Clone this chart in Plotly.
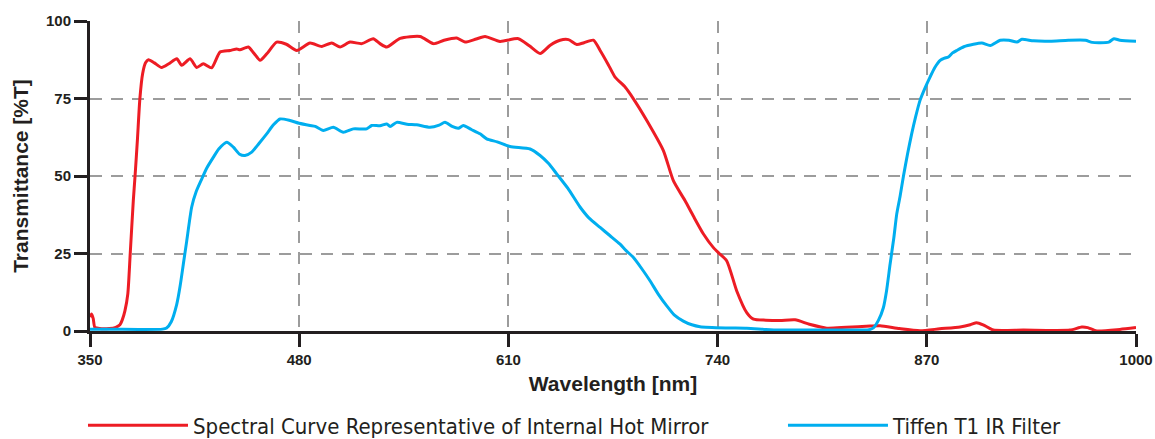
import plotly.graph_objects as go

# ---- data ----
red_wl = [350, 351, 352, 353, 356, 362, 366, 368.6, 370, 371.7, 373.5, 375, 376.9, 378, 379.5, 381, 382.7, 384.5, 386.3,
          390, 394.5, 399, 403.9, 407, 412.2, 416.3, 420.4, 425.6, 430.8, 437, 441.2, 443.2, 448.4, 452, 455.7, 460, 466,
          472, 478.5, 486.7, 494, 500.2, 505.4, 511.6, 518.9, 526, 530.2, 534.4, 542.7, 555.1, 563.4, 570, 577.9, 583,
          590, 595.5, 604.8, 616.2, 623, 629.7, 636, 642.1, 647.3, 652.5, 657, 662.8, 667, 672, 676.3, 682.5, 687.7,
          696, 706.3, 712.5, 719.8, 725, 731.2, 737.4, 741, 745.7, 751.9, 758.1, 762.3, 770, 778.8, 788.2, 797, 807.9,
          820, 834.8, 841, 853, 865.8, 878, 890.7, 897, 901, 905, 911.4, 930, 959, 966.3, 970, 975.6, 990, 1000]
red_t = [4.5, 5.5, 4.0, 1.2, 0.8, 0.8, 1.2, 2.0, 3.5, 6.5, 12, 25, 42, 50, 62, 75, 83, 86.5, 87.5,
         86.5, 85, 86.2, 87.8, 85.7, 87.8, 85, 86.2, 84.9, 90, 90.5, 91, 90.7, 91.6, 89.5, 87.3, 89.5, 93.2,
         92.5, 90.5, 92.9, 91.8, 92.9, 91.6, 93.2, 92.7, 94.3, 92.7, 91.6, 94.4, 95, 92.7, 93.8, 94.5, 93.2,
         94.2, 95, 93.4, 94.3, 92, 89.5, 92.2, 93.8, 94, 92.4, 93, 93.8, 90.5, 86, 81.9, 78.7, 74.9,
         67.9, 58.2, 48.5, 42, 37, 31.3, 26.9, 25, 22.6, 12.9, 5.9, 3.8, 3.5, 3.4, 3.6, 2.2, 0.9,
         1.2, 1.6, 1.7, 0.8, 0.1, 0.7, 1.3, 2.0, 2.7, 2.0, 0.3, 0.3, 0.3, 1.3, 1.1, 0.0, 0.5, 1.1]

blue_wl = [350, 360, 380, 395, 397.6, 400.5, 403.9, 406, 408, 410.1, 413.2, 416, 419.4, 422.5, 426.6, 430, 435, 439.1,
           443, 446.3, 450.5, 455, 459.8, 464, 468.1, 474.3, 480, 486.7, 490, 495, 501.2, 507.4, 513.6, 521.9, 525.1,
           530.2, 534.4, 536.5, 540.6, 547, 553, 561.3, 567, 570.6, 575, 578.9, 582, 587, 592.4, 596.5, 603, 611,
           623.5, 629.7, 635, 640, 647, 654.5, 660, 667, 673, 679.4, 683, 687.7, 693, 698, 703, 708.4, 713, 718.7,
           724, 729.1, 745, 758.1, 770, 778.8, 800, 820, 834, 836.8, 840, 843, 845, 847.2, 849.5, 851.3, 853.4,
           855.5, 858, 860.6, 863, 865.8, 869, 872, 875, 878.3, 881, 883.4, 886, 888.6, 893, 899, 904.2, 909.4,
           915.6, 921, 926, 929.1, 936.3, 946.7, 958, 968.6, 972.8, 983.1, 986.3, 990, 1000]
blue_t = [0.6, 0.6, 0.5, 0.6, 1, 3, 8.6, 14.5, 21.6, 29, 40, 45, 49, 52.5, 56, 58.7, 60.9, 59.3,
          57, 56.6, 57.7, 60.5, 63.6, 66.5, 68.4, 67.9, 67, 66.3, 66, 64.7, 65.7, 64.1, 65.2, 65.2, 66.3,
          66.2, 66.8, 66, 67.3, 66.7, 66.5, 65.7, 66.4, 67.3, 66, 65.4, 66.3, 65, 63.6, 62, 61, 59.5,
          58.7, 56.6, 54, 50.7, 46, 40, 36.5, 33.4, 30.8, 28, 26, 23.7, 20, 16.2, 12, 8.1, 5.2, 3.2,
          2, 1.4, 1.0, 0.9, 0.5, 0.3, 0.3, 0.3, 0.4, 1, 3.5, 7.5, 13, 21.6, 30, 37.7, 43.5,
          50, 57, 63.6, 69, 74.4, 78.5, 81.9, 85, 87.3, 88, 88.4, 89.7, 90.5, 91.7, 92.5, 92.9, 92.1,
          93.8, 93.8, 93.2, 94.1, 93.6, 93.5, 93.8, 93.8, 93.1, 93.2, 94.3, 93.8, 93.5]

x_ticks = [350, 480, 610, 740, 870, 1000]
y_ticks = [0, 25, 50, 75, 100]
series_names = ["Spectral Curve Representative of Internal Hot Mirror", "Tiffen T1 IR Filter"]

RED = "#ed1c24"
BLUE = "#00aeef"
INK = "#231f20"
GRID = "#9c9c9c"

fig = go.Figure()
fig.add_trace(go.Scatter(x=red_wl, y=red_t, mode="lines", name=series_names[0], showlegend=True,
                         line=dict(color=RED, width=3, shape="spline", smoothing=0.6),
                         legend="legend"))
fig.add_trace(go.Scatter(x=blue_wl, y=blue_t, mode="lines", name=series_names[1], showlegend=True,
                         line=dict(color=BLUE, width=3, shape="spline", smoothing=0.6),
                         legend="legend2"))

tickfont = dict(family="Liberation Sans, Arial, sans-serif", size=15, color=INK, weight="bold")
titlefont = dict(family="Liberation Sans, Arial, sans-serif", size=21, color=INK, weight="bold")
legfont = dict(family="Liberation Sans Narrow, DejaVu Sans Condensed, Liberation Sans, sans-serif", size=22, color=INK)

fig.update_layout(
    width=1155, height=439,
    showlegend=True,
    margin=dict(l=90, r=19, t=21, b=108, autoexpand=False),
    paper_bgcolor="white", plot_bgcolor="white",
    xaxis=dict(range=[350, 1000], tickvals=x_ticks, ticktext=[str(v) for v in x_ticks],
               showline=True, linecolor=INK, linewidth=3, ticks="outside", ticklen=13, tickwidth=2.5,
               tickcolor=INK, tickfont=tickfont, showgrid=True, gridcolor=GRID, gridwidth=2,
               griddash="12px,9px", zeroline=False,
               title=dict(text="Wavelength [nm]", font=titlefont, standoff=10)),
    yaxis=dict(range=[0, 100], tickvals=y_ticks, ticktext=[str(v) for v in y_ticks],
               showline=True, linecolor=INK, linewidth=3, ticks="outside", ticklen=13, tickwidth=2.5,
               tickcolor=INK, tickfont=tickfont, showgrid=True, gridcolor=GRID, gridwidth=2,
               griddash="12px,9px", zeroline=False,
               title=dict(text="Transmittance [%T]", font=titlefont, standoff=12)),
    legend=dict(orientation="h", x=-0.0067, xanchor="left", y=-0.305, yanchor="middle",
                font=legfont, itemwidth=100, bgcolor="rgba(0,0,0,0)"),
    legend2=dict(orientation="h", x=0.6625, xanchor="left", y=-0.305, yanchor="middle",
                 font=legfont, itemwidth=100, bgcolor="rgba(0,0,0,0)"),
)

fig.write_html("out.html", config={"displayModeBar": False},
               post_script="document.body.style.margin='0px';document.body.style.overflow='hidden';")
